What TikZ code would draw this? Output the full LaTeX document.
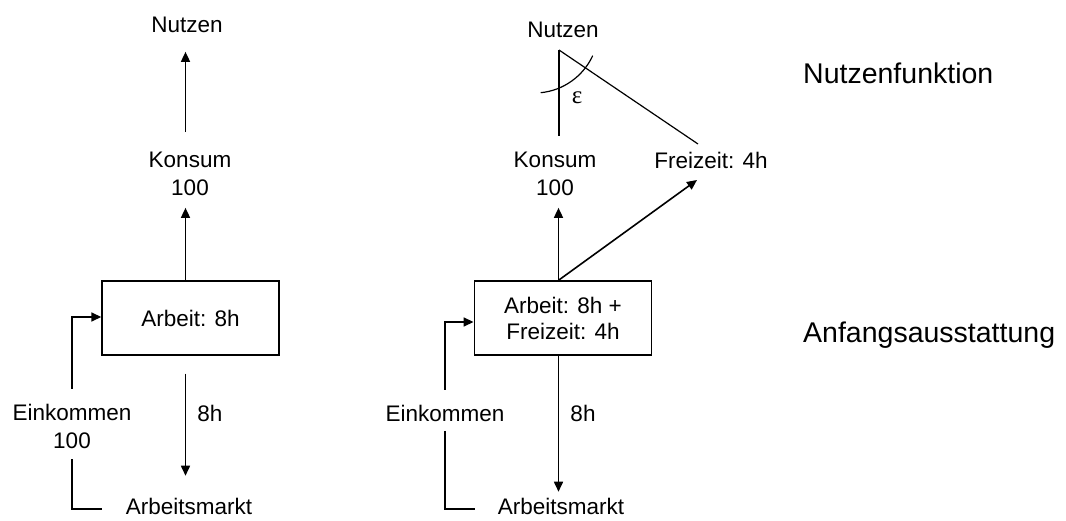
\documentclass[tikz,border=0pt]{standalone}
\usepackage{fontspec}
\setmainfont{Liberation Sans}
\newfontfamily\grk{Liberation Serif}
\usetikzlibrary{arrows.meta,positioning,calc}
\tikzset{
  lbl/.style={inner sep=0pt,outer sep=0pt,font=\fontsize{22.5}{28}\selectfont,align=center},
  side/.style={inner sep=0pt,anchor=west,font=\fontsize{28.5}{34}\selectfont},
  frame/.style={draw,line width=1.4pt,minimum height=74pt,inner sep=0pt,align=center,font=\fontsize{22.5}{26}\selectfont},
  arr/.style={line width=1.6pt,-{Triangle[length=10pt,width=9pt]}},
  wire/.style={line width=1.6pt},
  fine/.style={line width=1.2pt},
}

\begin{document}
\begin{tikzpicture}[x=1pt,y=-1pt]
  \useasboundingbox (0,0) rectangle (1066,521);
  % Left: labour only
  \node[lbl] (nutz1) at (187,25) {Nutzen};
  \node[lbl] (kons1) at (190,173.5) {Konsum\\100};
  \node[frame,minimum width=177pt] (work1) at (190.5,318) {Arbeit: 8h};
  \node[lbl] (hrs1) at (210,413) {8h};
  \node[lbl] (eink1) at (72,426) {Einkommen\\100};
  \node[lbl] (mkt1) at (189,506) {Arbeitsmarkt};
  \coordinate (col1) at (185.5,0);
  \draw[arr,shorten <=19.5pt,shorten >=19pt] (kons1.north -| col1) -- (nutz1.south -| col1);
  \draw[arr,shorten >=12.5pt] (work1.north -| col1) -- (kons1.south -| col1);
  \draw[arr,shorten <=18pt,shorten >=22pt] (work1.south -| col1) -- (mkt1.north -| col1);
  \draw[arr,shorten <=15pt] (eink1.north) |- ([yshift=1pt]work1.west);
  \draw[wire,shorten <=11pt,shorten >=24pt] (eink1.south) |- ([yshift=-3pt]mkt1.west);
  % Right: labour + leisure
  \node[lbl] (nutz2) at (563,30) {Nutzen};
  \coordinate (apex) at (559,50);
  \node[lbl] (kons2) at (555,173.5) {Konsum\\100};
  \node[lbl] (frei2) at (711,160) {Freizeit: 4h};
  \node[frame,minimum width=177.5pt] (work2) at (563,318) {Arbeit: 8h +\\Freizeit: 4h};
  \node[lbl] (hrs2) at (583,413) {8h};
  \node[lbl] (eink2) at (445,413) {Einkommen};
  \node[lbl] (mkt2) at (561,506) {Arbeitsmarkt};
  \node[inner sep=0pt,font=\grk\fontsize{25}{25}\selectfont] (eps) at (577,98) {ε};
  \coordinate (col2) at (558.5,0);
  \coordinate (fzup) at (698,144);
  \coordinate (fzin) at (697,180);
  \draw[fine,shorten >=16pt] (apex) -- (kons2.north -| apex);
  \draw[fine] (apex) -- (fzup);
  \draw[fine] (592.7,55.7) arc[start angle=24.8,end angle=84.3,radius=64.3];
  \draw[arr,shorten >=12.5pt] (work2.north -| col2) -- (kons2.south -| col2);
  \draw[arr] (work2.north -| col2) -- (fzin);
  \draw[arr,shorten >=6pt] (work2.south -| col2) -- (mkt2.north -| col2);
  \draw[arr,shorten <=15pt] (eink2.north) |- ([yshift=-4pt]work2.west);
  \draw[wire,shorten <=9.5pt,shorten >=23pt] (eink2.south) |- ([yshift=-3pt]mkt2.west);
  % Side labels
  \node[side] (nf) at (803,73) {Nutzenfunktion};
  \node[side] (aa) at (803,335) {Anfangsausstattung};
\end{tikzpicture}
\end{document}
